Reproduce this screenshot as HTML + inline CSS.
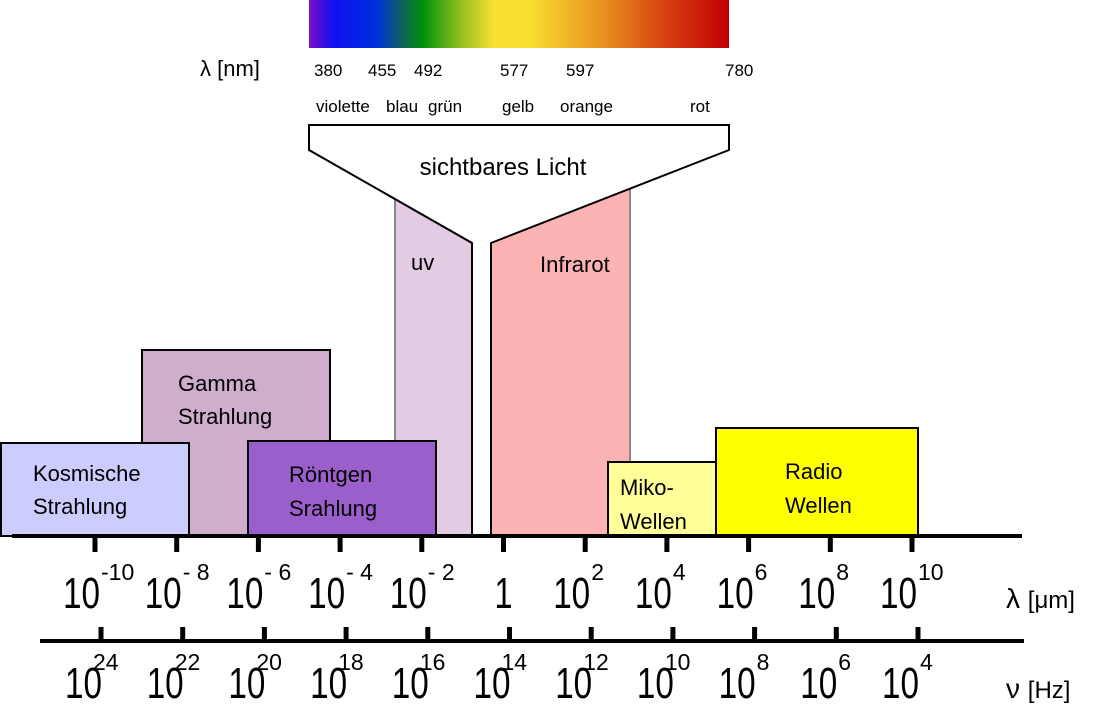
<!DOCTYPE html>
<html><head><meta charset="utf-8"><style>
html,body{margin:0;padding:0;background:#fff;}
svg{display:block;font-family:"Liberation Sans",Arial,sans-serif;}
</style></head><body>
<svg id="chart" width="1114" height="712" viewBox="0 0 1114 712" xmlns="http://www.w3.org/2000/svg">
<defs>
<linearGradient id="spec" x1="0" x2="1" y1="0" y2="0">
<stop offset="0" stop-color="#7a10c8"/><stop offset="0.06" stop-color="#1010f0"/><stop offset="0.16" stop-color="#0030e0"/>
<stop offset="0.22" stop-color="#106060"/><stop offset="0.27" stop-color="#00900a"/><stop offset="0.36" stop-color="#90c020"/>
<stop offset="0.44" stop-color="#f8e030"/><stop offset="0.52" stop-color="#f8e030"/><stop offset="0.7" stop-color="#e89020"/>
<stop offset="0.85" stop-color="#d84010"/><stop offset="1" stop-color="#c00000"/>
</linearGradient>
</defs>
<g>
<rect x="309" y="0" width="420" height="48" fill="url(#spec)"/>
<text x="200" y="76" font-size="22">λ [nm]</text>
<g font-size="17">
<text x="314" y="76">380</text><text x="368" y="76">455</text><text x="414" y="76">492</text>
<text x="500" y="76">577</text><text x="566" y="76">597</text><text x="725" y="76">780</text>
</g>
<g font-size="17">
<text x="316" y="112">violette</text><text x="386" y="112">blau</text><text x="428" y="112">grün</text>
<text x="502" y="112">gelb</text><text x="560" y="112">orange</text><text x="690" y="112">rot</text>
</g>
</g>
<rect x="395" y="198" width="77" height="337" fill="#e3cce3" stroke="#888" stroke-width="2"/>
<rect x="491" y="185" width="139" height="350" fill="#fdb3b3" stroke="#888" stroke-width="2"/>
<path d="M309,125 L729,125 L729,150 L491,243 L491,540 L472,540 L472,243 L309,150 Z" fill="#fff" stroke="none"/>
<path d="M472,535 L472,243 L309,150 L309,125 L729,125 L729,150 L491,243 L491,535" fill="none" stroke="#000" stroke-width="2"/>
<text x="503" y="175" font-size="24" text-anchor="middle">sichtbares Licht</text>
<text x="411" y="270" font-size="22">uv</text>
<text x="540" y="272" font-size="22">Infrarot</text>

<rect x="142" y="350" width="188" height="186" fill="#cfadcd" stroke="#000" stroke-width="2"/>
<text font-size="22"><tspan x="178" y="391">Gamma</tspan><tspan x="178" y="424">Strahlung</tspan></text>
<rect x="1" y="443" width="188" height="93" fill="#ccccff" stroke="#000" stroke-width="2"/>
<text font-size="22"><tspan x="33" y="481">Kosmische</tspan><tspan x="33" y="514">Strahlung</tspan></text>
<rect x="248" y="441" width="188" height="95" fill="#9a5fca" stroke="#000" stroke-width="2"/>
<text font-size="22"><tspan x="289" y="482">Röntgen</tspan><tspan x="289" y="516">Srahlung</tspan></text>
<rect x="608" y="462" width="113" height="74" fill="#ffff99" stroke="#000" stroke-width="2"/>
<text font-size="22"><tspan x="620" y="495">Miko-</tspan><tspan x="620" y="529">Wellen</tspan></text>
<rect x="716" y="428" width="202" height="108" fill="#ffff00" stroke="#000" stroke-width="2"/>
<text font-size="22"><tspan x="785" y="479">Radio</tspan><tspan x="785" y="513">Wellen</tspan></text>

<line x1="12" y1="536" x2="1022" y2="536" stroke="#000" stroke-width="4"/>
<line x1="40" y1="641" x2="1024" y2="641" stroke="#000" stroke-width="4"/>
<text x="1006" y="608" font-size="28">λ <tspan font-size="24">[μm]</tspan></text>
<text x="1006" y="698" font-size="28">ν <tspan font-size="24">[Hz]</tspan></text>
<g id="ticks"></g>
</svg>
<script>
const lambdaExps = ["-10","- 8","- 6","- 4","- 2","","2","4","6","8","10"];
const freqExps = ["24","22","20","18","16","14","12","10","8","6","4"];
const svg = document.getElementById('ticks');
const NS = "http://www.w3.org/2000/svg";
function xTop(i){ return 95 + i*81.7; }
function xBot(i){ return 101 + i*81.7; }
function mk(tag, attrs){ const e=document.createElementNS(NS,tag); for(const k in attrs) e.setAttribute(k,attrs[k]); svg.appendChild(e); return e; }
lambdaExps.forEach((ex,i)=>{
  const x = xTop(i);
  const t = mk('rect',{x:x-2.5,y:536,width:5,height:16,fill:'#000'});
  
  
  if(ex===""){
    const l = mk('text',{x:x-9,y:608,'font-size':44,textLength:18,lengthAdjust:'spacingAndGlyphs'});
    l.textContent='1';
    
    
  } else {
    const l = mk('text',{x:x-32,y:608,'font-size':44,textLength:37,lengthAdjust:'spacingAndGlyphs'});
    l.textContent='10';
    
    
    const s = mk('text',{x:x+6,y:580,'font-size':23});
    s.textContent=ex;
    
    
  }
});
freqExps.forEach((ex,i)=>{
  const x = xBot(i);
  const t = mk('rect',{x:x-2.5,y:627,width:5,height:14,fill:'#000'});
  
  
  const l = mk('text',{x:x-36,y:698,'font-size':44,textLength:37,lengthAdjust:'spacingAndGlyphs'});
  l.textContent='10';
  
  
  const s = mk('text',{x:x+(ex.length>1?-8:2),y:670,'font-size':23});
  s.textContent=ex;
  
  
});
</script>
</body></html>
